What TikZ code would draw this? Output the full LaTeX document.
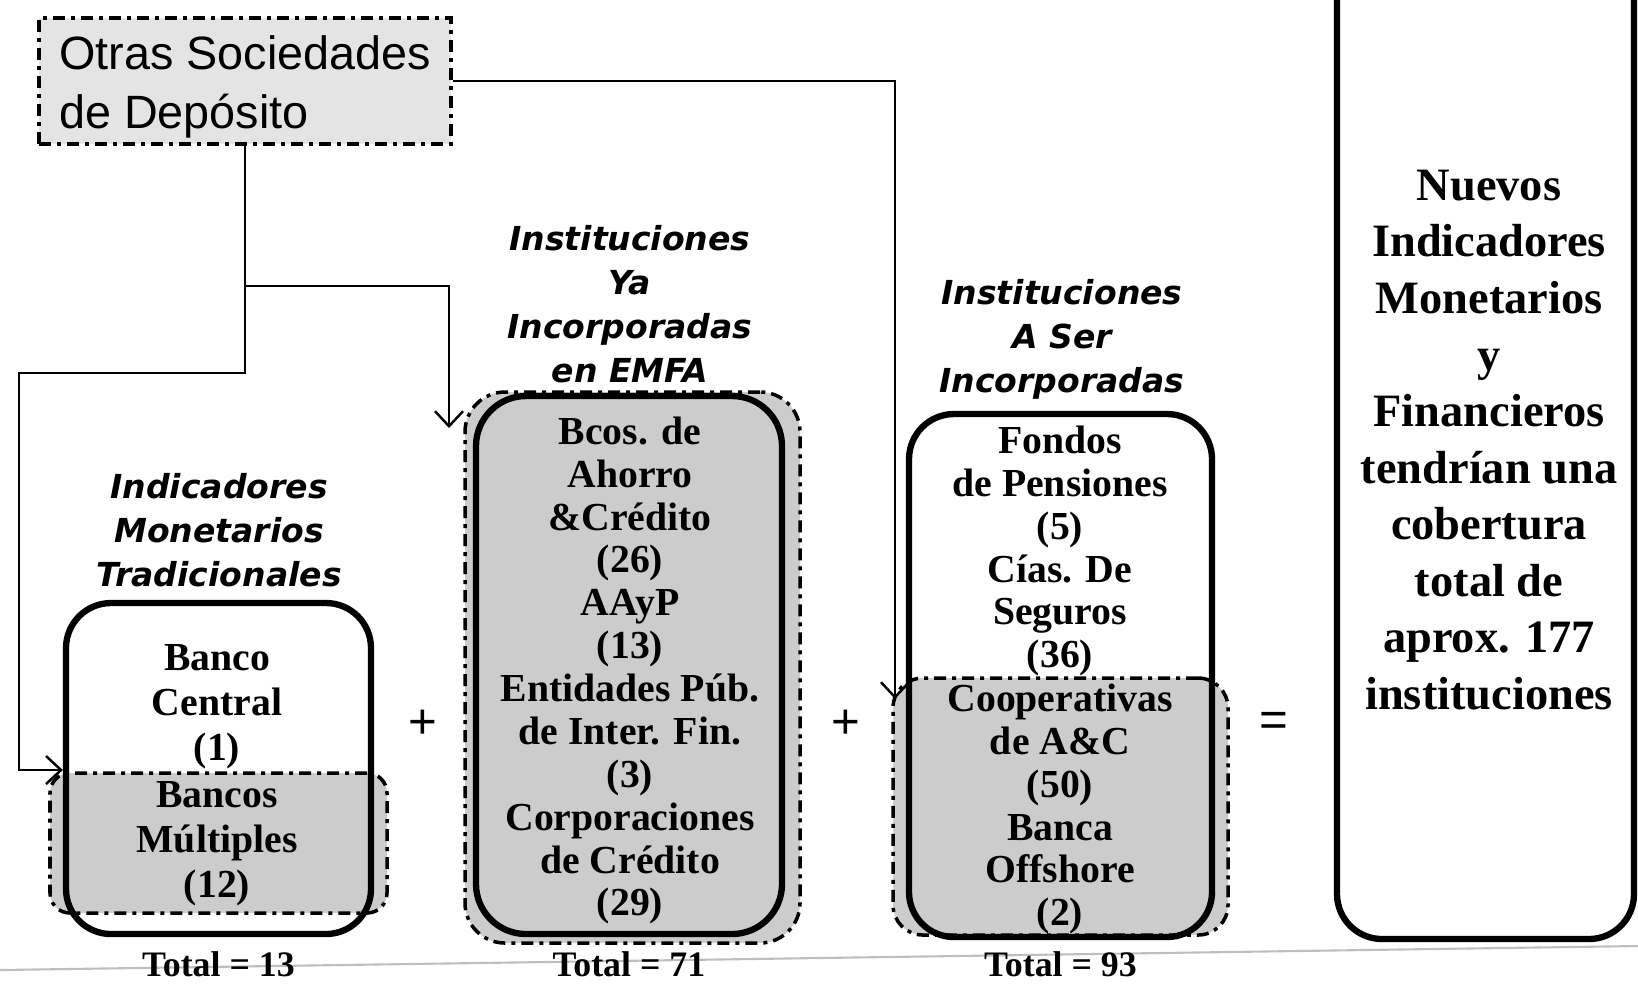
\documentclass[tikz,border=0pt]{standalone}
\usepackage{fontspec}
\setmainfont{Liberation Serif}
\newfontfamily\arialfont{Liberation Sans}
\newfontfamily\headfont{DejaVu Sans}
\usetikzlibrary{positioning,arrows.meta}
\definecolor{boxgray}{RGB}{204,204,204}
\definecolor{osdgray}{RGB}{228,228,228}
\definecolor{scanline}{RGB}{190,190,190}

\begin{document}
\begin{tikzpicture}[
  solidbox/.style={draw, line width=1.8pt, rounded corners=0.45cm, rectangle},
  graybox/.style={draw, fill=boxgray, line width=1pt, rounded corners=0.3cm,
    dash pattern=on 1.2mm off 0.6mm on 0.4mm off 0.6mm},
  boxtext/.style={align=center, inner sep=0pt, font=\bfseries\fontsize{11.3}{12.2}\selectfont},
  head/.style={align=center, inner sep=0pt, font=\headfont\bfseries\itshape\fontsize{9.4}{12.5}\selectfont},
  total/.style={inner sep=0pt, font=\bfseries\fontsize{10.2}{12}\selectfont},
  opsign/.style={font=\arialfont\fontsize{14}{16}\selectfont},
  conn/.style={line width=0.7pt, -{Straight Barb[length=1.5mm,width=2.8mm]}}
]
\useasboundingbox (0,0) rectangle (16.38,-9.83);
\draw[scanline, line width=0.6pt] (0,-9.70) -- (16.38,-9.46);

\node[graybox, fill=osdgray, sharp corners, minimum width=4.12cm, minimum height=1.26cm] (osd) at (2.45,-0.81) {};
\node[align=left, inner sep=0pt, font=\arialfont\fontsize{13.3}{16.6}\selectfont] (osdtxt) at (2.45,-0.87) {Otras Sociedades\\de Depósito};

\node[graybox, rounded corners=0.2cm, minimum width=3.37cm, minimum height=1.40cm] (bm) at (2.185,-8.43) {};
\node[solidbox, minimum width=3.05cm, minimum height=3.31cm] (bc) at (2.185,-7.685) {};
\node[boxtext, font=\bfseries\fontsize{11.3}{12.8}\selectfont] (bctxt) at (2.17,-7.07) {Banco\\Central\\(1)};
\node[boxtext, font=\bfseries\fontsize{11.3}{12.8}\selectfont] (bmtxt) at (2.17,-8.44) {Bancos\\Múltiples\\(12)};
\node[head] (h1) at (2.19,-5.30) {Indicadores\\Monetarios\\Tradicionales};
\node[total, below=0.14cm of bc] (t1) {Total = 13};

\node[graybox, rounded corners=0.4cm, minimum width=3.35cm, minimum height=5.51cm] (ya) at (6.325,-6.675) {};
\node[solidbox, rounded corners=0.5cm, minimum width=3.06cm, minimum height=5.38cm] (yab) at (6.29,-6.65) {};
\node[boxtext] (yatxt) at (6.30,-6.705) {Bcos. de\\Ahorro\\\&Crédito\\(26)\\AAyP\\(13)\\Entidades Púb.\\de Inter. Fin.\\(3)\\Corporaciones\\de Crédito\\(29)};
\node[head] (h2) at (6.30,-3.04) {Instituciones\\Ya\\Incorporadas\\en EMFA};
\node[total, below=0.14cm of yab] (t2) {Total = 71};

\node[graybox, minimum width=3.35cm, minimum height=2.57cm] (coop) at (10.605,-8.065) {};
\node[solidbox, minimum width=3.03cm, minimum height=5.23cm] (asi) at (10.605,-6.755) {};
\node[boxtext] (asitxt) at (10.60,-5.51) {Fondos\\de Pensiones\\(5)\\Cías. De\\Seguros\\(36)};
\node[boxtext] (cooptxt) at (10.60,-8.09) {Cooperativas\\de A\&C\\(50)\\Banca\\Offshore\\(2)};
\node[head] (h3) at (10.62,-3.39) {Instituciones\\A Ser\\Incorporadas};
\node[total, below=0.11cm of asi] (t3) {Total = 93};

\node[solidbox, minimum width=2.97cm, minimum height=10.4cm] (nim) at (14.855,-4.19) {};
\node[boxtext, font=\bfseries\fontsize{13.2}{16.1}\selectfont] (nimtxt) at (14.89,-4.40) {Nuevos\\Indicadores\\Monetarios\\y\\Financieros\\tendrían una\\cobertura\\total de\\aprox. 177\\instituciones};

\node[opsign] (plus1) at (4.23,-7.24) {+};
\node[opsign] (plus2) at (8.46,-7.24) {+};
\node[opsign] (eq) at (12.74,-7.24) {=};

\coordinate (yain) at (4.49,-4.28);
\coordinate (asin) at (8.95,-6.99);
\draw[conn] (osd.south) |- (0.19,-3.73) |- (bc.west |- 0,-7.70);
\draw[conn] (osd.south |- 0,-2.86) -| (yain);
\draw[conn] (osd.east) -| (asin);
\end{tikzpicture}
\end{document}
